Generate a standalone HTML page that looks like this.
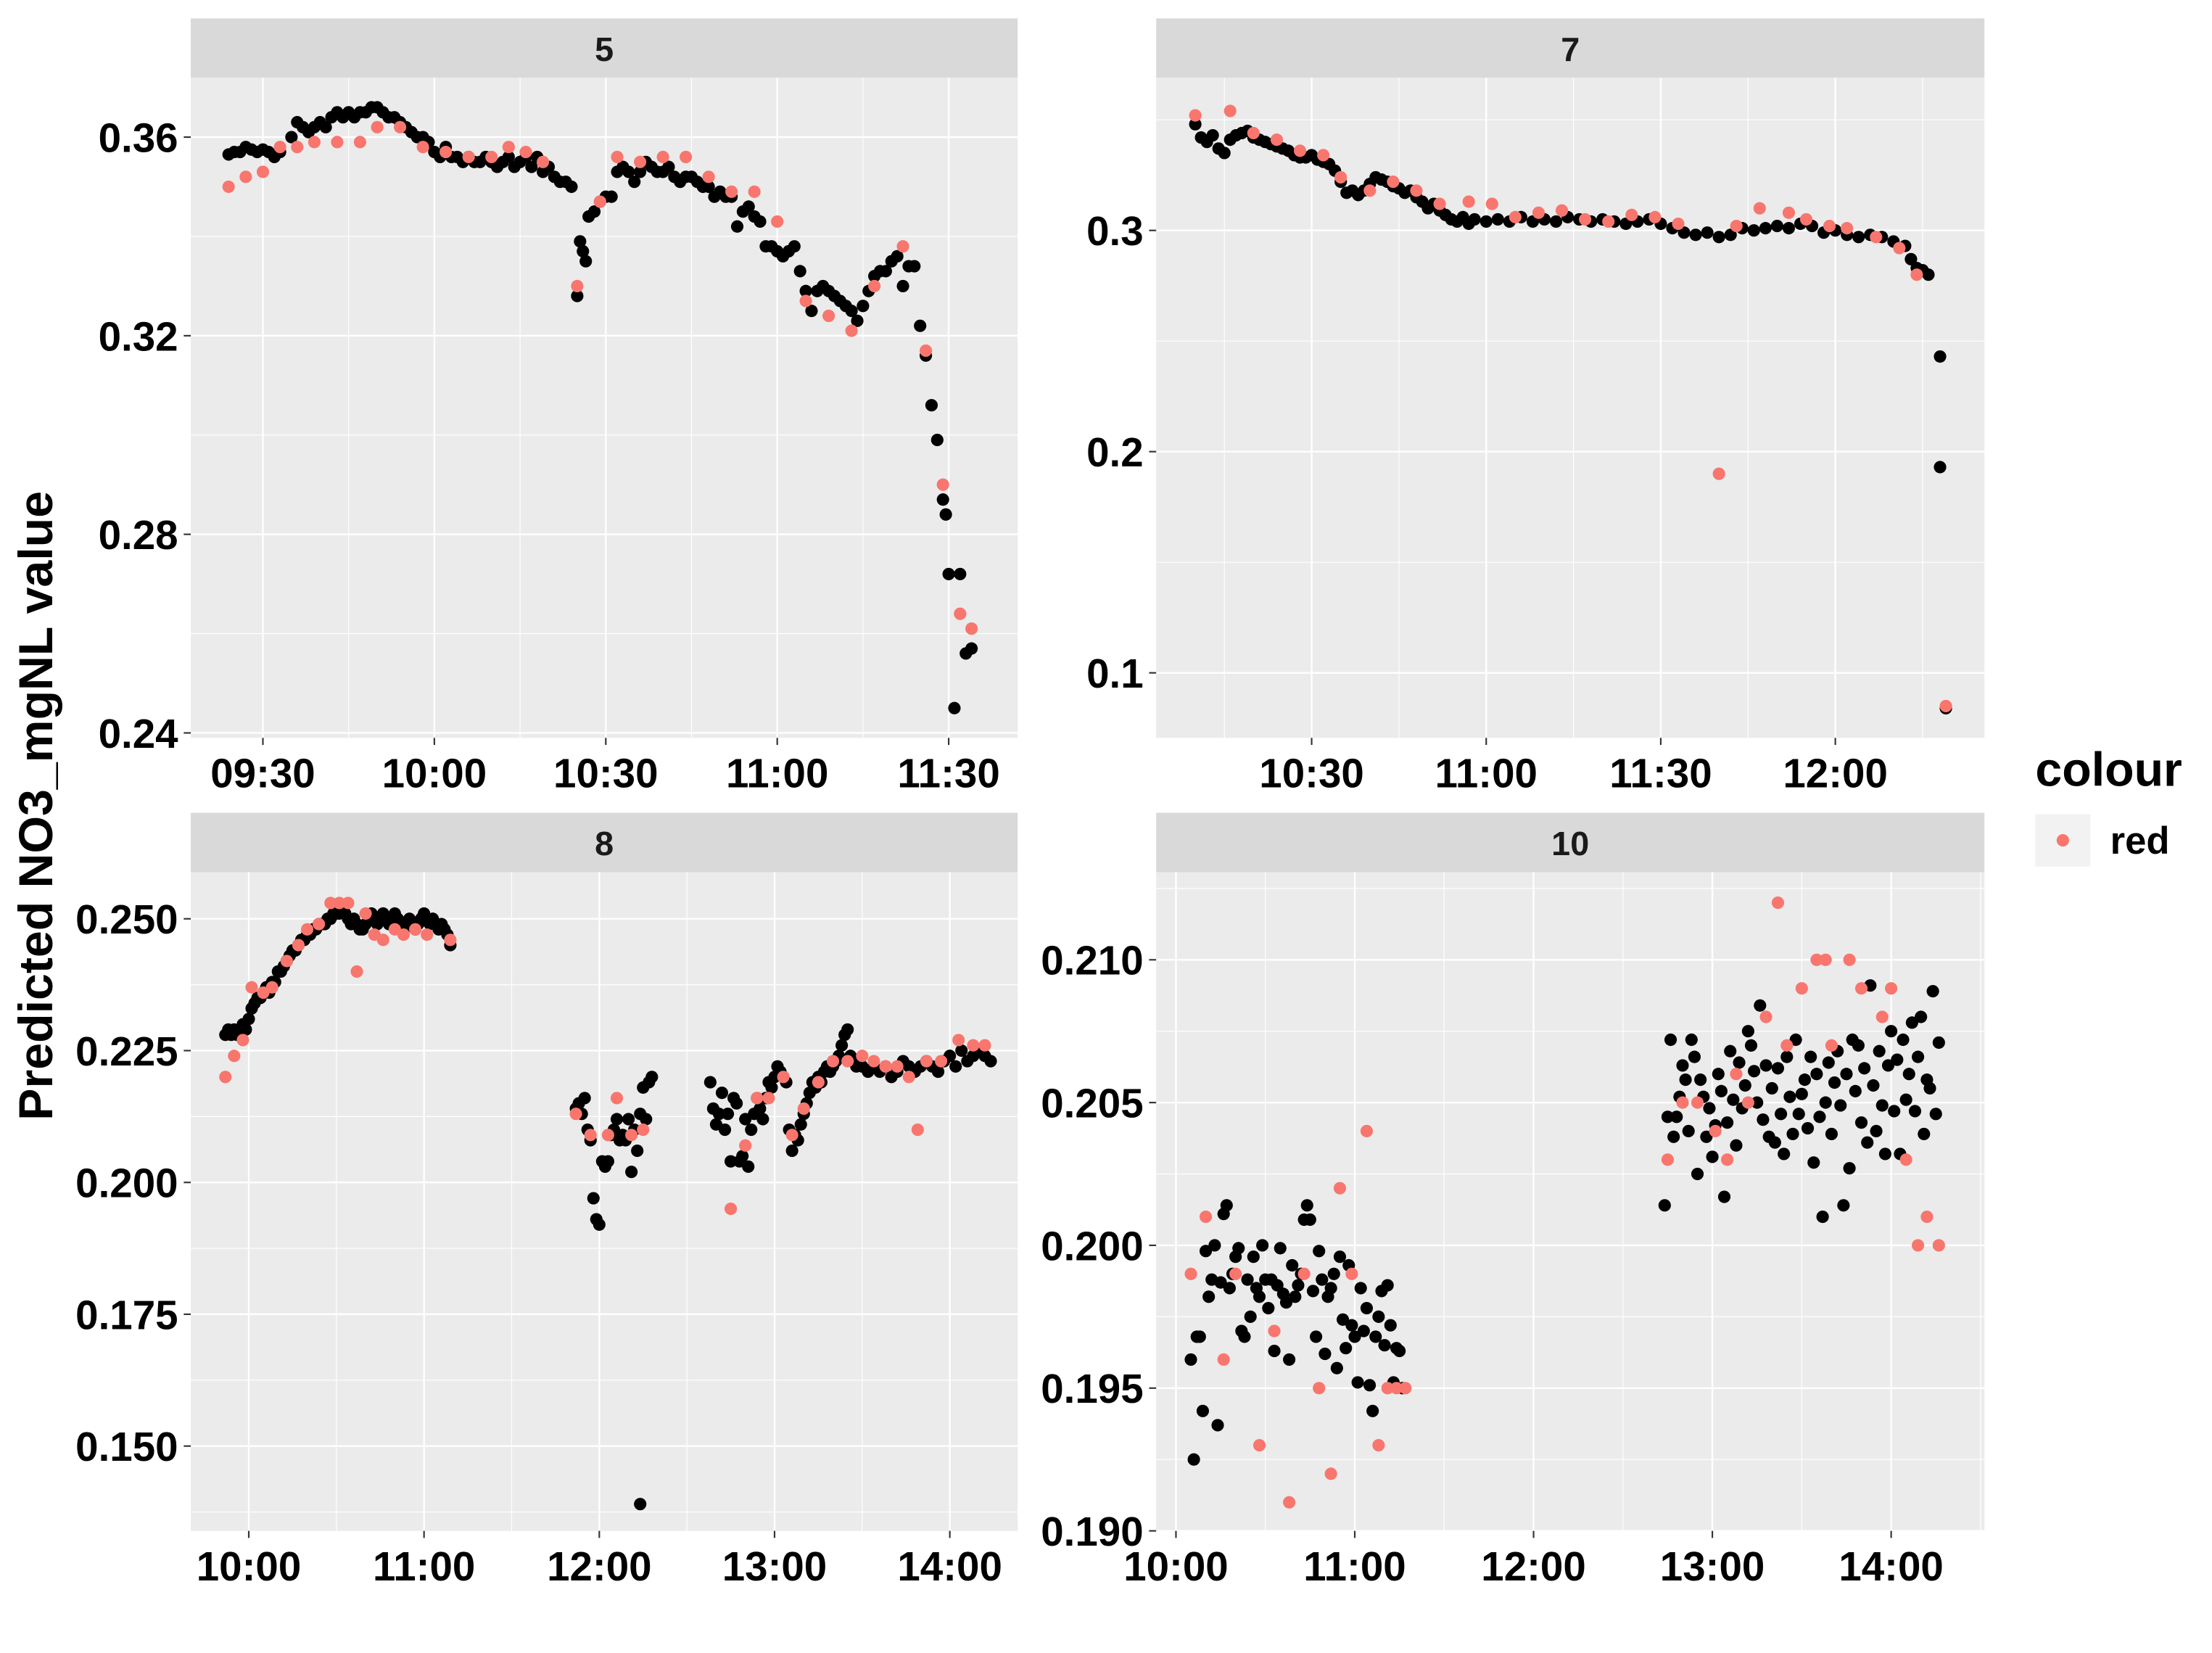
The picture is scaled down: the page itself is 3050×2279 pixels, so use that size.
<!DOCTYPE html>
<html><head><meta charset="utf-8"><style>
html,body{margin:0;padding:0;background:#fff;}
svg{display:block;font-family:"Liberation Sans",Arial,sans-serif;font-weight:bold;}
</style></head><body>
<svg id="chart" width="3050" height="2279" viewBox="0 0 1565 1169.4" preserveAspectRatio="none" xmlns="http://www.w3.org/2000/svg">
<rect x="0" y="0" width="1565" height="1170" fill="#fff"/>
<text x="0" y="0" transform="translate(37,570) rotate(-90)" text-anchor="middle" font-size="34" fill="#000">Predicted NO3_mgNL value</text>
<g>
<text x="1440" y="556" font-size="34" fill="#000">colour</text>
<rect x="1440" y="576" width="39" height="37" fill="#F2F2F2"/>
<circle cx="1459.5" cy="594.5" r="4.4" fill="#F8766D"/>
<text x="1493" y="604" font-size="27" fill="#000">red</text>
</g>
</svg>
<script>
// ---------- DATA ----------
const p5Black = [["09:24",.3565],["09:25",.357],["09:26",.357],["09:27",.358],["09:28",.3575],["09:29",.357],["09:30",.3575],["09:31",.357],["09:32",.356],["09:33",.357],["09:35",.360],["09:36",.363],["09:37",.362],["09:38",.361],["09:39",.362],["09:40",.363],["09:41",.362],["09:42",.364],["09:43",.365],["09:44",.364],["09:45",.365],["09:46",.364],["09:47",.365],["09:48",.365],["09:49",.366],["09:50",.366],["09:51",.365],["09:52",.364],["09:53",.364],["09:54",.363],["09:55",.362],["09:56",.361],["09:57",.360],["09:58",.360],["09:59",.359],["10:00",.357],["10:01",.356],["10:02",.358],["10:03",.356],["10:04",.356],["10:05",.355],["10:06",.356],["10:07",.355],["10:08",.355],["10:09",.356],["10:10",.355],["10:11",.354],["10:12",.355],["10:13",.356],["10:14",.354],["10:15",.355],["10:16",.356],["10:17",.354],["10:18",.356],["10:19",.353],["10:20",.354],["10:21",.352],["10:22",.351],["10:23",.351],["10:24",.350],["10:25",.328],["10:25.5",.339],["10:26",.337],["10:26.5",.335],["10:27",.344],["10:28",.345],["10:29",.347],["10:30",.348],["10:31",.348],["10:32",.353],["10:33",.354],["10:34",.353],["10:35",.351],["10:36",.353],["10:37",.355],["10:38",.354],["10:39",.353],["10:40",.353],["10:41",.354],["10:42",.352],["10:43",.351],["10:44",.352],["10:45",.352],["10:46",.351],["10:47",.350],["10:48",.350],["10:49",.348],["10:50",.349],["10:51",.348],["10:52",.348],["10:53",.342],["10:54",.345],["10:55",.346],["10:56",.344],["10:57",.343],["10:58",.338],["10:59",.338],["11:00",.337],["11:01",.336],["11:02",.337],["11:03",.338],["11:04",.333],["11:05",.329],["11:06",.325],["11:07",.329],["11:08",.330],["11:09",.329],["11:10",.328],["11:11",.327],["11:12",.326],["11:13",.325],["11:14",.323],["11:15",.326],["11:16",.329],["11:17",.332],["11:18",.333],["11:19",.333],["11:20",.335],["11:21",.336],["11:22",.330],["11:23",.334],["11:24",.334],["11:25",.322],["11:26",.316],["11:27",.306],["11:28",.299],["11:29",.287],["11:29.5",.284],["11:30",.272],["11:31",.245],["11:32",.272],["11:33",.256],["11:34",.257]];
const p5Red = [["09:24",.350],["09:27",.352],["09:30",.353],["09:33",.358],["09:36",.358],["09:39",.359],["09:43",.359],["09:47",.359],["09:50",.362],["09:54",.362],["09:58",.358],["10:02",.357],["10:06",.356],["10:10",.356],["10:13",.358],["10:16",.357],["10:19",.355],["10:25",.330],["10:29",.347],["10:32",.356],["10:36",.355],["10:40",.356],["10:44",.356],["10:48",.352],["10:52",.349],["10:56",.349],["11:00",.343],["11:05",.327],["11:09",.324],["11:13",.321],["11:17",.330],["11:22",.338],["11:26",.317],["11:29",.290],["11:32",.264],["11:34",.261]];
const p7Black = [["10:10",.348],["10:11",.342],["10:12",.340],["10:13",.343],["10:14",.337],["10:15",.335],["10:16",.341],["10:17",.343],["10:18",.344],["10:19",.345],["10:20",.342],["10:21",.341],["10:22",.340],["10:23",.339],["10:24",.338],["10:25",.337],["10:26",.336],["10:27",.334],["10:28",.333],["10:29",.333],["10:30",.334],["10:31",.332],["10:32",.331],["10:33",.330],["10:34",.327],["10:35",.322],["10:36",.317],["10:37",.318],["10:38",.316],["10:39",.318],["10:40",.321],["10:41",.324],["10:42",.323],["10:43",.322],["10:44",.320],["10:45",.319],["10:46",.317],["10:47",.318],["10:48",.315],["10:49",.313],["10:50",.310],["10:51",.312],["10:52",.309],["10:53",.307],["10:54",.305],["10:55",.304],["10:56",.306],["10:57",.303],["10:58",.305],["11:00",.304],["11:02",.305],["11:04",.304],["11:06",.306],["11:08",.304],["11:10",.305],["11:12",.304],["11:14",.306],["11:16",.305],["11:18",.304],["11:20",.305],["11:22",.304],["11:24",.303],["11:26",.304],["11:28",.305],["11:30",.303],["11:32",.301],["11:34",.299],["11:36",.298],["11:38",.299],["11:40",.297],["11:42",.298],["11:44",.301],["11:46",.300],["11:48",.301],["11:50",.302],["11:52",.301],["11:54",.303],["11:56",.302],["11:58",.299],["12:00",.300],["12:02",.298],["12:04",.297],["12:06",.298],["12:08",.297],["12:10",.295],["12:12",.293],["12:13",.287],["12:14",.283],["12:15",.282],["12:16",.280],["12:18",.243],["12:18",.193],["12:19",.084]];
const p7Red = [["10:10",.352],["10:16",.354],["10:20",.344],["10:24",.341],["10:28",.336],["10:32",.334],["10:35",.324],["10:40",.318],["10:44",.322],["10:48",.318],["10:52",.312],["10:57",.313],["11:01",.312],["11:05",.306],["11:09",.308],["11:13",.309],["11:17",.305],["11:21",.304],["11:25",.307],["11:29",.306],["11:33",.303],["11:40",.190],["11:43",.302],["11:47",.310],["11:52",.308],["11:55",.305],["11:59",.302],["12:02",.301],["12:07",.297],["12:11",.292],["12:14",.280],["12:19",.085]];
const p8Black = [["09:52",.228],["09:53",.229],["09:54",.228],["09:55",.229],["09:56",.228],["09:57",.229],["09:58",.230],["09:59",.229],["10:00",.231],["10:01",.233],["10:02",.234],["10:03",.235],["10:04",.235],["10:05",.236],["10:06",.237],["10:07",.236],["10:08",.238],["10:09",.238],["10:10",.240],["10:11",.240],["10:12",.241],["10:13",.242],["10:14",.243],["10:15",.244],["10:16",.244],["10:17",.245],["10:18",.246],["10:19",.246],["10:20",.247],["10:21",.247],["10:22",.248],["10:23",.248],["10:24",.249],["10:25",.249],["10:26",.249],["10:27",.250],["10:28",.250],["10:29",.251],["10:30",.251],["10:31",.251],["10:32",.252],["10:33",.251],["10:34",.250],["10:35",.249],["10:36",.250],["10:37",.249],["10:38",.248],["10:39",.248],["10:40",.249],["10:41",.250],["10:42",.251],["10:43",.250],["10:44",.249],["10:45",.250],["10:46",.251],["10:47",.250],["10:48",.249],["10:49",.250],["10:50",.251],["10:51",.250],["10:52",.249],["10:53",.248],["10:54",.249],["10:55",.250],["10:56",.249],["10:57",.248],["10:58",.249],["10:59",.250],["11:00",.251],["11:01",.250],["11:02",.249],["11:03",.250],["11:04",.249],["11:05",.248],["11:06",.249],["11:07",.248],["11:08",.247],["11:09",.245],
["11:52",.214],["11:53",.215],["11:54",.213],["11:55",.216],["11:56",.210],["11:57",.208],["11:58",.197],["11:59",.193],["12:00",.192],["12:01",.204],["12:02",.203],["12:03",.204],["12:04",.209],["12:05",.210],["12:06",.212],["12:07",.208],["12:08",.209],["12:09",.208],["12:10",.212],["12:11",.202],["12:12",.210],["12:13",.206],["12:14",.213],["12:15",.218],["12:16",.212],["12:17",.219],["12:18",.220],["12:14",.139],
["12:38",.219],["12:39",.214],["12:40",.211],["12:41",.213],["12:42",.217],["12:43",.210],["12:44",.213],["12:45",.204],["12:46",.216],["12:47",.215],["12:48",.204],["12:49",.205],["12:50",.212],["12:51",.203],["12:52",.210],["12:53",.213],["12:54",.216],["12:55",.214],["12:56",.212],["12:57",.216],["12:58",.219],["12:59",.218],["13:00",.220],["13:01",.222],["13:02",.221],["13:03",.220],["13:04",.219],["13:05",.210],["13:06",.206],["13:07",.209],["13:08",.208],["13:09",.211],["13:10",.213],["13:11",.215],["13:12",.217],["13:13",.219],["13:14",.218],["13:15",.220],["13:16",.219],["13:17",.221],["13:18",.222],["13:19",.221],["13:20",.222],["13:21",.223],["13:22",.224],["13:23",.226],["13:24",.228],["13:25",.229],["13:26",.224],["13:27",.223],["13:28",.222],["13:29",.223],["13:30",.222],["13:32",.221],["13:34",.222],["13:36",.221],["13:38",.222],["13:40",.220],["13:42",.221],["13:44",.223],["13:46",.222],["13:48",.221],["13:50",.222],["13:52",.223],["13:54",.222],["13:56",.221],["13:58",.223],["14:00",.224],["14:02",.222],["14:04",.225],["14:06",.223],["14:08",.224],["14:10",.225],["14:12",.224],["14:14",.223]];
const p8Red = [["09:52",.220],["09:55",.224],["09:58",.227],["10:01",.237],["10:05",.236],["10:08",.237],["10:13",.242],["10:17",.245],["10:20",.248],["10:24",.249],["10:28",.253],["10:31",.253],["10:34",.253],["10:37",.240],["10:40",.251],["10:43",.247],["10:46",.246],["10:50",.248],["10:53",.247],["10:57",.248],["11:01",.247],["11:09",.246],["11:52",.213],["11:57",.209],["12:03",.209],["12:06",.216],["12:11",.209],["12:15",.210],["12:45",.195],["12:50",.207],["12:54",.216],["12:58",.216],["13:03",.220],["13:06",.209],["13:10",.214],["13:15",.219],["13:20",.223],["13:25",.223],["13:30",.224],["13:34",.223],["13:38",.222],["13:42",.222],["13:46",.220],["13:49",.210],["13:52",.223],["13:57",.223],["14:03",.227],["14:08",.226],["14:12",.226]];
const p10Black = [["10:05",.196],["10:06",.1925],["10:07",.1968],["10:08",.1968],["10:09",.1942],["10:10",.1998],["10:11",.1982],["10:12",.1988],["10:13",.2000],["10:14",.1937],["10:15",.1987],["10:16",.2011],["10:17",.2014],["10:18",.1985],["10:19",.1990],["10:20",.1996],["10:21",.1999],["10:22",.1970],["10:23",.1968],["10:24",.1988],["10:25",.1975],["10:26",.1996],["10:27",.1985],["10:28",.1982],["10:29",.2000],["10:30",.1988],["10:31",.1978],["10:32",.1988],["10:33",.1963],["10:34",.1986],["10:35",.1999],["10:36",.1983],["10:37",.1980],["10:38",.1960],["10:39",.1993],["10:40",.1982],["10:41",.1986],["10:42",.1990],["10:43",.2009],["10:44",.2014],["10:45",.2009],["10:46",.1984],["10:47",.1968],["10:48",.1998],["10:49",.1988],["10:50",.1962],["10:51",.1982],["10:52",.1985],["10:53",.1990],["10:54",.1957],["10:55",.1996],["10:56",.1974],["10:57",.1964],["10:58",.1993],["10:59",.1972],["11:00",.1968],["11:01",.1952],["11:02",.1985],["11:03",.1970],["11:04",.1978],["11:05",.1951],["11:06",.1942],["11:07",.1968],["11:08",.1975],["11:09",.1984],["11:10",.1965],["11:11",.1986],["11:12",.1972],["11:13",.1952],["11:14",.1964],["11:15",.1963],["11:16",.1950],
["12:44",.2014],["12:45",.2045],["12:46",.2072],["12:47",.2038],["12:48",.2045],["12:49",.2052],["12:50",.2063],["12:51",.2058],["12:52",.2040],["12:53",.2072],["12:54",.2066],["12:55",.2025],["12:56",.2058],["12:57",.2052],["12:58",.2038],["12:59",.2048],["13:00",.2031],["13:01",.2042],["13:02",.2060],["13:03",.2054],["13:04",.2017],["13:05",.2043],["13:06",.2068],["13:07",.2051],["13:08",.2035],["13:09",.2064],["13:10",.2048],["13:11",.2056],["13:12",.2075],["13:13",.2070],["13:14",.2061],["13:15",.2050],["13:16",.2084],["13:17",.2044],["13:18",.2063],["13:19",.2038],["13:20",.2055],["13:21",.2036],["13:22",.2062],["13:23",.2046],["13:24",.2032],["13:25",.2066],["13:26",.2052],["13:27",.2039],["13:28",.2072],["13:29",.2046],["13:30",.2053],["13:31",.2058],["13:32",.2041],["13:33",.2066],["13:34",.2029],["13:35",.2060],["13:36",.2045],["13:37",.2010],["13:38",.2050],["13:39",.2064],["13:40",.2039],["13:41",.2057],["13:42",.2068],["13:43",.2049],["13:44",.2014],["13:45",.2060],["13:46",.2027],["13:47",.2072],["13:48",.2054],["13:49",.2070],["13:50",.2043],["13:51",.2062],["13:52",.2036],["13:53",.2091],["13:54",.2056],["13:55",.2040],["13:56",.2068],["13:57",.2049],["13:58",.2032],["13:59",.2063],["14:00",.2075],["14:01",.2047],["14:02",.2065],["14:03",.2032],["14:04",.2072],["14:05",.2051],["14:06",.2060],["14:07",.2078],["14:08",.2047],["14:09",.2066],["14:10",.2080],["14:11",.2039],["14:12",.2058],["14:13",.2055],["14:14",.2089],["14:15",.2046],["14:16",.2071]];
const p10Red = [["10:05",.199],["10:10",.201],["10:16",.196],["10:20",.199],["10:28",.193],["10:33",.197],["10:38",.191],["10:43",.199],["10:48",.195],["10:52",.192],["10:55",.202],["10:59",.199],["11:04",.204],["11:08",.193],["11:11",.195],["11:14",.195],["11:17",.195],["12:45",.203],["12:50",.205],["12:55",.205],["13:01",.204],["13:05",.203],["13:08",.206],["13:12",.205],["13:18",.208],["13:22",.212],["13:25",.207],["13:30",.209],["13:35",.210],["13:38",.210],["13:40",.207],["13:46",.210],["13:50",.209],["13:57",.208],["14:00",.209],["14:05",.203],["14:09",.200],["14:12",.201],["14:16",.200]];
const p5YTicks = [0.24,0.28,0.32,0.36];
const p5YLabels = ["0.24","0.28","0.32","0.36"];
const p5XTicks = ["09:30","10:00","10:30","11:00","11:30"];
const p7YTicks = [0.1,0.2,0.3];
const p7YLabels = ["0.1","0.2","0.3"];
const p7XTicks = ["10:30","11:00","11:30","12:00"];
const p8YTicks = [0.150,0.175,0.200,0.225,0.250];
const p8YLabels = ["0.150","0.175","0.200","0.225","0.250"];
const p8XTicks = ["10:00","11:00","12:00","13:00","14:00"];
const p10YTicks = [0.190,0.195,0.200,0.205,0.210];
const p10YLabels = ["0.190","0.195","0.200","0.205","0.210"];
const p10XTicks = ["10:00","11:00","12:00","13:00","14:00"];

// ---------- RENDER ----------
const NS = "http://www.w3.org/2000/svg";
const svg = document.getElementById('chart');
function tm(s){const p=s.split(':');return (+p[0])*60+parseFloat(p[1]);}
function mk(tag, attrs, parent){const e=document.createElementNS(NS,tag);for(const k in attrs)e.setAttribute(k,attrs[k]);(parent||svg).appendChild(e);return e;}

function panel(cfg){
  const g = mk('g',{});
  
  
  const L=cfg.x0,R=cfg.x1,T=cfg.y0,B=cfg.y1;
  const xs = t => cfg.xa[1] + (t - tm(cfg.xa[0])) * cfg.pxPerMin;
  const ys = v => cfg.ya[1] + (v - cfg.ya[0]) * cfg.pxPerUnit;
  const strip = mk('rect',{x:L,y:T-42,width:R-L,height:42,fill:'#D9D9D9'},g);
  
  
  const st = mk('text',{x:(L+R)/2,y:T-12,'text-anchor':'middle','font-size':24,fill:'#1A1A1A'},g);
  st.textContent = cfg.title;
  
  
  const bg = mk('rect',{x:L,y:T,width:R-L,height:B-T,fill:'#EBEBEB'},g);
  
  
  const yt = cfg.yTicks, step = yt[1]-yt[0];
  for(let v=yt[0]-step*1.5; v<=yt[yt.length-1]+step*1.6; v+=step){
    const y=ys(v); if(y<T||y>B) continue;
    mk('line',{x1:L,x2:R,y1:y,y2:y,stroke:'#fff','stroke-width':0.6},g);
  }
  const xt = cfg.xTicks.map(tm), xstep = xt[1]-xt[0];
  for(let t=xt[0]-xstep*1.5; t<=xt[xt.length-1]+xstep*1.6; t+=xstep){
    const x=xs(t); if(x<L||x>R) continue;
    mk('line',{x1:x,x2:x,y1:T,y2:B,stroke:'#fff','stroke-width':0.6},g);
  }
  yt.forEach((v,i)=>{
    const y=ys(v);
    mk('line',{x1:L,x2:R,y1:y,y2:y,stroke:'#fff','stroke-width':1.2},g);
    mk('line',{x1:L-5,x2:L,y1:y,y2:y,stroke:'#333','stroke-width':1.1},g);
    const tx=mk('text',{x:L-9,y:y+10.5,'text-anchor':'end','font-size':29,fill:'#000'},g);
    tx.textContent=cfg.yLabels[i];
    
    
  });
  cfg.xTicks.forEach(s=>{
    const x=xs(tm(s));
    mk('line',{x1:x,x2:x,y1:T,y2:B,stroke:'#fff','stroke-width':1.2},g);
    mk('line',{x1:x,x2:x,y1:B,y2:B+5,stroke:'#333','stroke-width':1.1},g);
    const tx=mk('text',{x:x,y:B+35,'text-anchor':'middle','font-size':29,fill:'#000'},g);
    tx.textContent=s;
    
    
  });
  cfg.black.forEach(d=>{
    const c=mk('circle',{cx:xs(tm(d[0])),cy:ys(d[1]),r:4.4,fill:'#000'},g);
    
    
  });
  cfg.red.forEach(d=>{
    const c=mk('circle',{cx:xs(tm(d[0])),cy:ys(d[1]),r:4.4,fill:'#F8766D'},g);
    
    
  });
}

panel({title:'5',x0:135,x1:720,y0:55,y1:522,xa:['09:30',186],pxPerMin:121.3/30,ya:[0.36,97],pxPerUnit:-140.5/0.04,yTicks:p5YTicks,yLabels:p5YLabels,xTicks:p5XTicks,black:p5Black,red:p5Red});
panel({title:'7',x0:818,x1:1404,y0:55,y1:522,xa:['10:30',928],pxPerMin:123.5/30,ya:[0.3,163],pxPerUnit:-156.5/0.1,yTicks:p7YTicks,yLabels:p7YLabels,xTicks:p7XTicks,black:p7Black,red:p7Red});
panel({title:'8',x0:135,x1:720,y0:617,y1:1083,xa:['10:00',176],pxPerMin:124/60,ya:[0.25,650],pxPerUnit:-93.25/0.025,yTicks:p8YTicks,yLabels:p8YLabels,xTicks:p8XTicks,black:p8Black,red:p8Red});
panel({title:'10',x0:818,x1:1404,y0:617,y1:1083,xa:['10:00',832],pxPerMin:126.5/60,ya:[0.21,679],pxPerUnit:-101/0.005,yTicks:p10YTicks,yLabels:p10YLabels,xTicks:p10XTicks,black:p10Black,red:p10Red});
</script>
</body></html>
